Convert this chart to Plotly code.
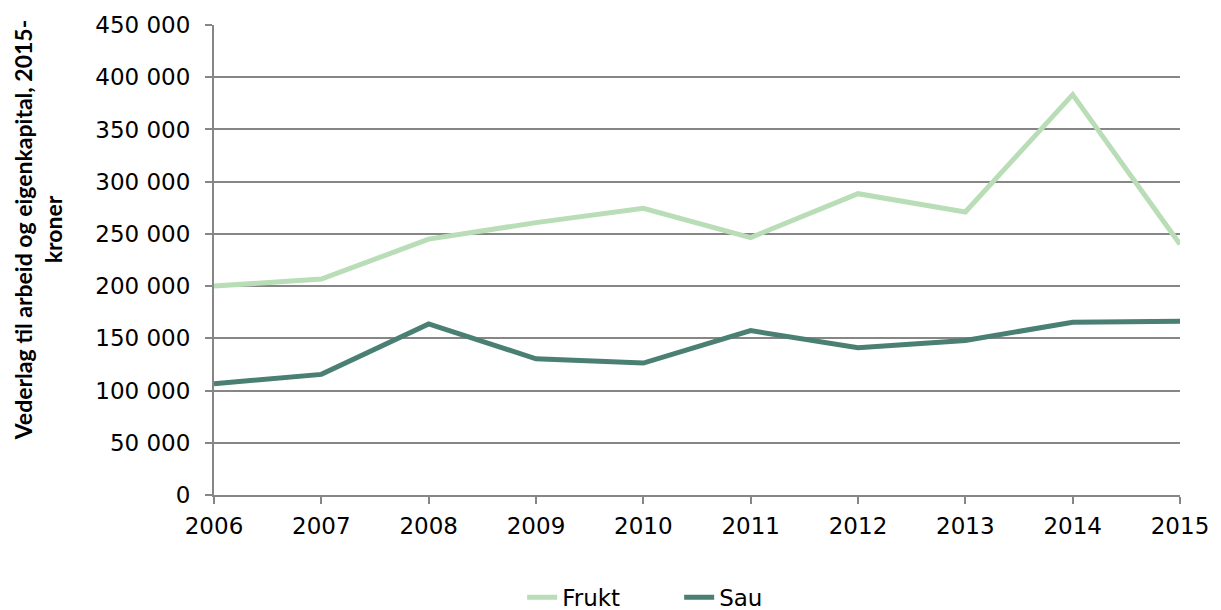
import plotly.graph_objects as go

years = [2006, 2007, 2008, 2009, 2010, 2011, 2012, 2013, 2014, 2015]
frukt = [200000, 206700, 245000, 260800, 274500, 246500, 288500, 271000, 383300, 240000]
sau = [106600, 115500, 163800, 130400, 126300, 157400, 141000, 147900, 165400, 166300]
y_ticks = [0, 50000, 100000, 150000, 200000, 250000, 300000, 350000, 400000, 450000]

FONT = "DejaVu Sans"
TFONT = "Lato"
fig = go.Figure()
fig.add_trace(go.Scatter(x=years, y=frukt, name="Frukt", mode="lines",
                         line=dict(color="#b9ddb7", width=5)))
fig.add_trace(go.Scatter(x=years, y=sau, name="Sau", mode="lines",
                         line=dict(color="#4a7f73", width=5)))

fig.update_layout(
    width=1221, height=610,
    margin=dict(l=214, r=36, t=23, b=115),
    paper_bgcolor="white", plot_bgcolor="white",
    separators=", ",
    font=dict(family=FONT, size=23, color="#000000"),
    showlegend=True,
    legend=dict(orientation="h", x=0.319, xanchor="left",
                yref="container", y=0.021, yanchor="middle",
                font=dict(size=23), entrywidth=112, entrywidthmode="pixels",
                tracegroupgap=0),
    xaxis=dict(range=[2006, 2015], tickvals=years, ticktext=[str(y) for y in years],
               showgrid=False, showline=True, linecolor="#868686", linewidth=2,
               ticks="outside", ticklen=7, tickcolor="#868686", tickwidth=2,
               ticklabelstandoff=2,
               zeroline=False, fixedrange=True),
    yaxis=dict(range=[0, 450000], tickvals=y_ticks, tickformat=",d",
               showgrid=True, gridcolor="#868686", gridwidth=2,
               showline=True, linecolor="#868686", linewidth=2,
               ticks="outside", ticklen=7, tickcolor="#868686", tickwidth=2,
               ticklabelstandoff=10,
               zeroline=False, fixedrange=True),
    annotations=[dict(text="<b>Vederlag til arbeid og eigenkapital, 2015-<br>kroner</b>",
                      xref="paper", yref="paper", x=-0.182, y=0.5636,
                      xanchor="center", yanchor="middle", textangle=-90,
                      showarrow=False, font=dict(family=TFONT, size=23, color="#000000"))],
)

fig.write_html("out.html", config={"displayModeBar": False},
               post_script="document.body.style.margin='0';document.body.style.overflow='hidden';")
